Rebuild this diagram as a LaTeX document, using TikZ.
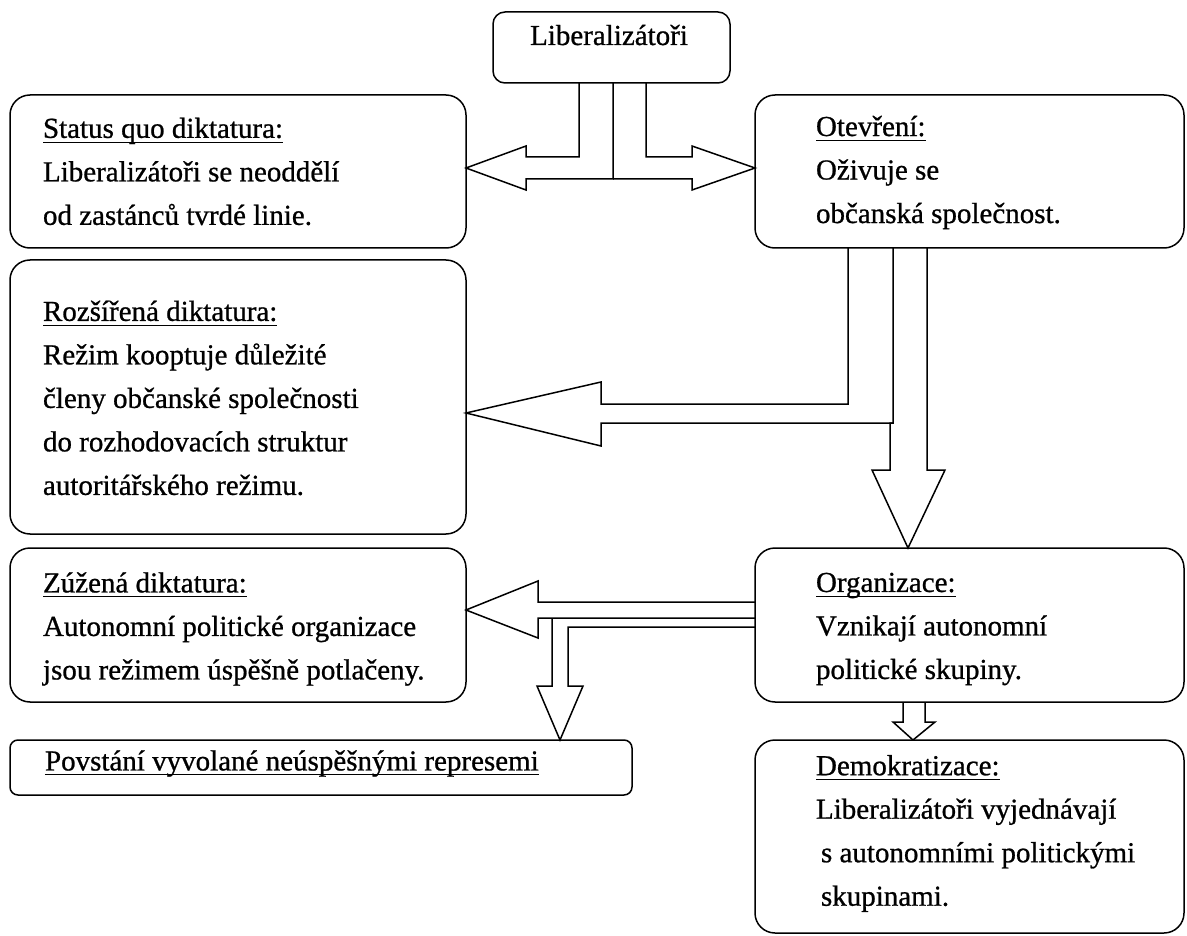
\documentclass[tikz,border=0pt]{standalone}
\usepackage{fontspec}
\setmainfont{Liberation Serif}[FakeBold=0.8]
\usetikzlibrary{positioning}
\newcommand{\hdr}[1]{\setbox0\hbox{#1}\rlap{\rule[-5pt]{\wd0}{1.3pt}}\box0}

\begin{document}
\begin{tikzpicture}[x=1pt, y=-1pt, line width=1.5pt, line join=miter,
    box/.style={draw, rounded corners=20pt, minimum width=456pt, inner sep=0pt},
    rbox/.style={box, minimum width=429pt},
    txt/.style={font=\fontsize{29}{43.5}\selectfont, align=left, inner sep=0pt, anchor=west}]
    \useasboundingbox (0,0) rectangle (1187,936);

    \node[box, minimum width=237pt, minimum height=71pt, rounded corners=12pt] (lib) at (611.5,47.5) {};
    \node[txt, anchor=base] (libtxt) at (609,45) {Liberalizátoři};

    \node[box, minimum height=153pt] (sq) at (238,171.5) {};
    \node[txt, right=33pt of sq.west] (sqtxt) {\hdr{Status quo diktatura:}\\Liberalizátoři se neoddělí\\od zastánců tvrdé linie.};

    \node[rbox, minimum height=153pt] (ote) at (969.5,171.5) {};
    \node[txt, right=61pt of ote.west, yshift=-1pt] (otetxt) {\hdr{Otevření:}\\Oživuje se\\občanská společnost.};

    \node[box, minimum height=274pt] (roz) at (238,397) {};
    \node[txt, right=33pt of roz.west, yshift=-1pt] (roztxt) {\hdr{Rozšířená diktatura:}\\Režim kooptuje důležité\\členy občanské společnosti\\do rozhodovacích struktur\\autoritářského režimu.};

    \node[box, minimum height=154pt] (zuz) at (238,625) {};
    \node[txt, right=33pt of zuz.west, yshift=-4pt] (zuztxt) {\hdr{Zúžená diktatura:}\\Autonomní politické organizace\\jsou režimem úspěšně potlačeny.};

    \node[rbox, minimum height=154pt] (org) at (969.5,625) {};
    \node[txt, right=61pt of org.west, yshift=-4pt] (orgtxt) {\hdr{Organizace:}\\Vznikají autonomní\\politické skupiny.};

    \node[box, minimum width=622pt, minimum height=55pt, rounded corners=8pt] (pov) at (321,767.5) {};
    \node[txt, right=35pt of pov.west, yshift=4pt] (povtxt) {\hdr{Povstání vyvolané neúspěšnými represemi}};

    \node[rbox, minimum height=193pt] (dem) at (969.5,836.5) {};
    \node[txt, right=61pt of dem.west, yshift=3pt] (demtxt) {\hdr{Demokratizace:}\\Liberalizátoři vyjednávají\\\hspace*{5pt}s autonomními politickými\\\hspace*{5pt}skupinami.};

    % liberalizatori -> status quo / otevreni
    \draw (613,83) -- (613,179) -- (526,179) -- (526,190) -- (466,168) -- (526,146) -- (526,157) -- (579,157) -- (579,83);
    \draw (613,179) -- (692,179) -- (692,190) -- (755,168) -- (692,146) -- (692,157) -- (646,157) -- (646,83);

    % otevreni -> rozsirena / organizace
    \draw (848,248) -- (848,404) -- (601,404) -- (601,382) -- (466,413) -- (601,446) -- (601,423) -- (893,423) -- (893,248);
    \draw (893,423) -- (890,423) -- (890,470) -- (872,470) -- (908,548) -- (945,470) -- (927,470) -- (927,248);

    % organizace -> zuzena / povstani / demokratizace
    \draw (755,602) -- (538,602) -- (538,581) -- (466,610) -- (538,638) -- (538,618) -- (755,618);
    \draw (552,618) -- (552,686) -- (537,686) -- (560,740) -- (583,686) -- (568,686) -- (568,627) -- (755,627);
    \draw (903,702) -- (903,722) -- (893,722) -- (913,740) -- (935,722) -- (925,722) -- (925,702);
\end{tikzpicture}
\end{document}
